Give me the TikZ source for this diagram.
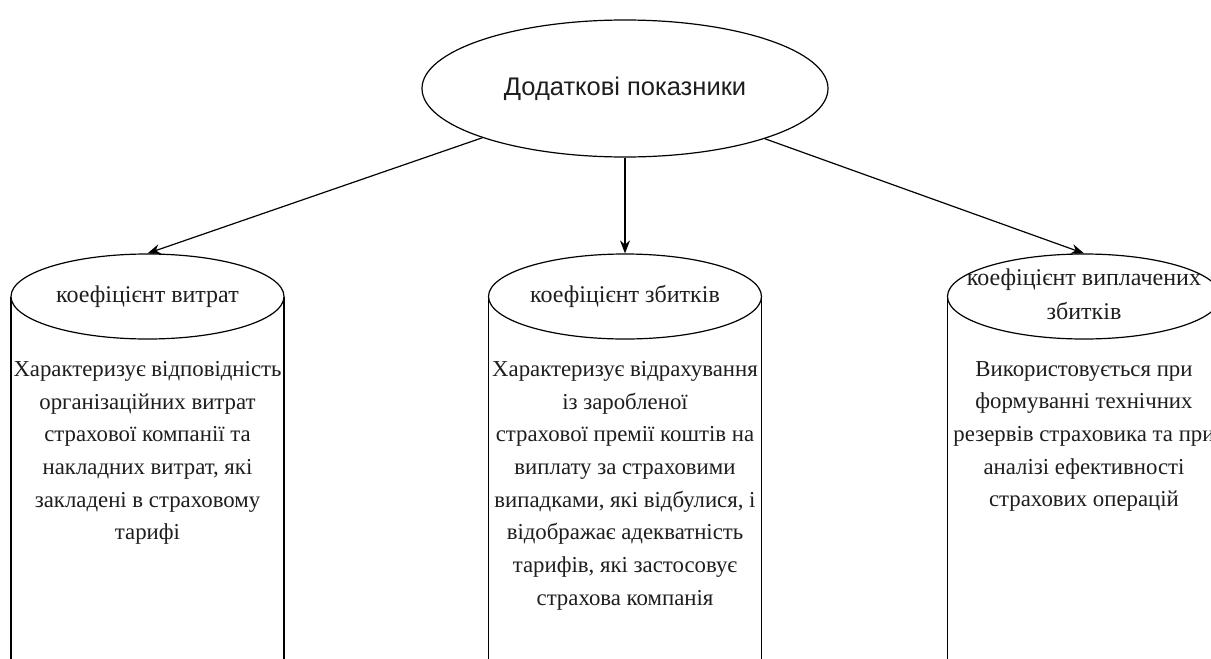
\documentclass[tikz,border=0pt]{standalone}
\usepackage{fontspec}
\setmainfont{Liberation Serif}
\newfontfamily\headsans{Liberation Sans}
\usetikzlibrary{shapes.geometric,arrows.meta}

\definecolor{ink}{RGB}{30,30,30}

\tikzset{
  every picture/.style={x=1pt,y=-1pt},
  outline/.style={draw=black,line width=1.2pt},
  topoval/.style={outline,ellipse,inner sep=0pt,minimum width=406pt,minimum height=137pt,
    font=\headsans\fontsize{25.5}{30}\selectfont,text=ink},
  capoval/.style={outline,fill=white,ellipse,inner sep=0pt,minimum width=273pt,minimum height=85pt},
  captext/.style={font=\fontsize{24}{34.5}\selectfont,text=ink,align=center,inner sep=0pt},
  bodytext/.style={font=\fontsize{22.8}{32.7}\selectfont,text=ink,align=center,inner sep=0pt,anchor=north},
  link/.style={line width=1.2pt,-{Stealth[length=13pt,width=10pt]}},
}

\begin{document}
\begin{tikzpicture}
\clip (0,0) rectangle (1211,659);
\fill[white] (0,0) rectangle (1211,659);

% central ellipse
\node[topoval] (top) at (625,88.5) {Додаткові показники};

% cylinder bodies (open at the bottom edge)
\coordinate (b1) at (147.5,296.5);
\coordinate (b2) at (625,296.5);
\coordinate (b3) at (1084,296.5);
\foreach \c in {b1,b2,b3}{
  \draw[outline] ([xshift=-136.5pt]\c) -- ++(0,420);
  \draw[outline] ([xshift=136.5pt]\c) -- ++(0,420);
}

% cylinder caps
\node[capoval] (c1) at (b1) {};
\node[capoval] (c2) at (b2) {};
\node[capoval] (c3) at (b3) {};
\node[captext] (h1) at (c1) {коефіцієнт витрат};
\node[captext] (h2) at (c2) {коефіцієнт збитків};
\node[captext] (h3) at ([yshift=2pt]c3) {коефіцієнт виплачених\\збитків};

% descriptions
\node[bodytext] (t1) at (147.5,361) {Характеризує відповідність\\організаційних витрат\\страхової компанії та\\накладних витрат, які\\закладені в страховому\\тарифі};
\node[bodytext] (t2) at (625,361) {Характеризує відрахування\\із заробленої\\страхової премії коштів на\\виплату за страховими\\випадками, які відбулися, і\\відображає адекватність\\тарифів, які застосовує\\страхова компанія};
\node[bodytext] (t3) at (1084,361) {Використовується при\\формуванні технічних\\резервів страховика та при\\аналізі ефективності\\страхових операцій};

% connectors
\draw[link] (top) -- (c1.north);
\draw[link] (top) -- (c2.north);
\draw[link] (top) -- (c3.north);
\end{tikzpicture}
\end{document}
